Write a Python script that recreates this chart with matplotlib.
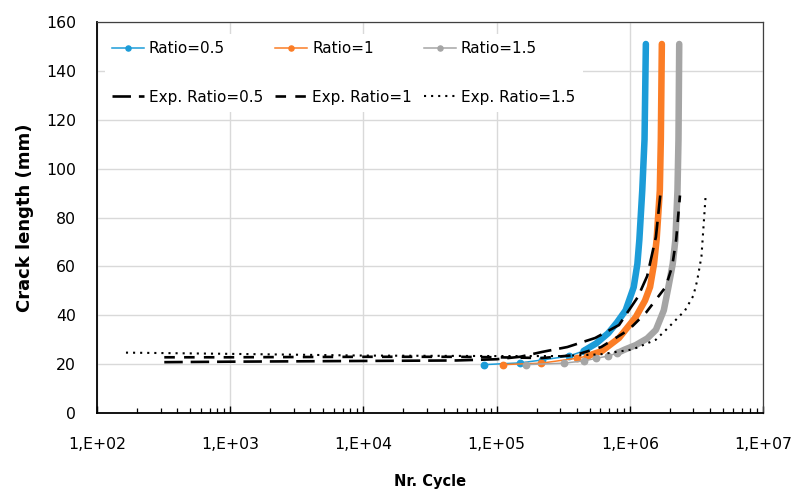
import matplotlib
matplotlib.use("Agg")
from matplotlib import pyplot as plt
from matplotlib.ticker import LogLocator, FixedLocator, NullFormatter

plt.rcParams['font.family'] = ['DejaVu Sans']

# model curves (cycles, crack length in mm)
n_r05 = [8.1e4, 1.5e5, 2.2e5, 3.5e5, 4.5e5, 5.6e5, 6.9e5, 8.0e5, 9.3e5, 1.07e6, 1.14e6, 1.18e6, 1.24e6, 1.29e6, 1.32e6]
a_r05 = [19.8, 20.5, 21.7, 23.3, 25.4, 28.5, 32.7, 37.0, 42.0, 51.5, 61.0, 71.0, 91.0, 112.0, 151.0]

n_r1 = [1.12e5, 2.17e5, 4.0e5, 4.8e5, 6.2e5, 8.3e5, 1.11e6, 1.30e6, 1.42e6, 1.52e6, 1.59e6, 1.68e6, 1.71e6, 1.74e6]
a_r1 = [19.8, 20.4, 22.4, 23.3, 25.4, 30.7, 39.3, 46.0, 51.6, 61.0, 71.0, 91.0, 112.0, 151.0]

n_r15 = [1.66e5, 3.2e5, 4.5e5, 5.6e5, 6.9e5, 8.0e5, 9.2e5, 1.11e6, 1.35e6, 1.57e6, 1.80e6, 1.95e6, 2.10e6, 2.20e6, 2.28e6, 2.32e6, 2.35e6]
a_r15 = [19.8, 20.4, 21.3, 22.4, 23.3, 24.5, 26.0, 27.8, 30.5, 34.0, 42.0, 51.6, 61.0, 71.0, 91.0, 112.0, 151.0]

# experimental curves
n_e05 = [3.2e2, 1e3, 1e4, 5e4, 1e5, 1.5e5, 2.2e5, 3.4e5, 5.5e5, 8.3e5, 1.15e6, 1.35e6, 1.57e6, 1.70e6]
a_e05 = [20.8, 21.0, 21.3, 21.5, 22.0, 23.0, 25.0, 27.0, 30.7, 36.0, 47.5, 56.0, 72.0, 90.0]

n_e1 = [3.2e2, 1e3, 1e4, 5e4, 1e5, 2.2e5, 3.9e5, 6.1e5, 9.8e5, 1.32e6, 1.86e6, 2.08e6, 2.23e6, 2.38e6]
a_e1 = [22.8, 22.8, 23.0, 23.0, 22.8, 22.5, 23.7, 27.0, 34.0, 41.0, 51.6, 60.0, 71.0, 89.0]

n_e15 = [1.65e2, 1e3, 1e4, 1e5, 3e5, 6e5, 1.05e6, 1.57e6, 1.95e6, 2.6e6, 3.0e6, 3.2e6, 3.45e6, 3.7e6]
a_e15 = [24.7, 24.2, 23.5, 23.3, 23.3, 24.0, 26.0, 30.0, 35.0, 42.0, 48.0, 54.0, 64.0, 88.0]

# index where model points get dense (drawn as a thick band)
thick_from = {'0.5': 4, '1': 3, '1.5': 5}

c_blue = '#1C9CD8'
c_orange = '#FB7D26'
c_gray = '#A5A5A5'

fig = plt.figure(figsize=(7.95, 4.93), dpi=100)
ax = fig.add_axes([97/795, 1 - 413/493, (763 - 97)/795, (413 - 22)/493])

h = {}
for key, n, a, col in [('0.5', n_r05, a_r05, c_blue),
                       ('1', n_r1, a_r1, c_orange),
                       ('1.5', n_r15, a_r15, c_gray)]:
    k = thick_from[key]
    h[key], = ax.plot(n, a, color=col, lw=1.1, marker='o', ms=4.6,
                      markevery=list(range(k + 1)),
                      label='Ratio=' + key, zorder=3)
    ax.plot(n[k:], a[k:], color=col, lw=4.7, solid_capstyle='round',
            solid_joinstyle='round', zorder=3)

e05, = ax.plot(n_e05, a_e05, color='black', lw=1.9, ls=(0, (7, 3)),
               label='Exp. Ratio=0.5', zorder=4)
e1, = ax.plot(n_e1, a_e1, color='black', lw=1.9, ls=(0, (4, 3.5)),
              label='Exp. Ratio=1', zorder=4)
e15, = ax.plot(n_e15, a_e15, color='black', lw=1.5, ls=(0, (1, 2.4)),
               label='Exp. Ratio=1.5', zorder=4)

ax.set_xscale('log')
ax.set_xlim(1e2, 1e7)
ax.set_ylim(0, 160)
ax.set_yticks(range(0, 161, 20))
ax.xaxis.set_major_locator(FixedLocator([1e2, 1e3, 1e4, 1e5, 1e6, 1e7]))
ax.xaxis.set_minor_locator(LogLocator(base=10, subs=range(2, 10), numticks=20))
ax.xaxis.set_minor_formatter(NullFormatter())
ax.set_xticklabels(['1,E+02', '1,E+03', '1,E+04', '1,E+05', '1,E+06', '1,E+07'])

ax.grid(which='major', color='#d9d9d9', lw=1.0, zorder=0)
ax.set_axisbelow(True)
ax.tick_params(axis='x', which='major', direction='in', length=5, width=1,
               pad=17, labelsize=11.3, colors='black')
ax.tick_params(axis='x', which='minor', direction='in', length=3.5, width=0.9)
ax.tick_params(axis='y', length=0, pad=15, labelsize=11.3)

for s in ['left', 'bottom']:
    ax.spines[s].set_color('black')
    ax.spines[s].set_linewidth(1.3)
for s in ['top', 'right']:
    ax.spines[s].set_color('#404040')
    ax.spines[s].set_linewidth(0.9)

ax.set_xlabel('Nr. Cycle', fontsize=10.5, fontweight='bold', labelpad=16)
ax.set_ylabel('Crack length (mm)', fontsize=13, fontweight='bold', labelpad=9)

leg = ax.legend(handles=[h['0.5'], e05, h['1'], e1, h['1.5'], e15],
                ncol=3, loc='upper left', bbox_to_anchor=(0.0, 0.99),
                fontsize=11, frameon=True, facecolor='white', edgecolor='none',
                framealpha=1, fancybox=False, labelspacing=2.2,
                handlelength=2.1, handletextpad=0.3, columnspacing=0.8,
                markerscale=0.8, borderpad=0.5)
leg.set_zorder(5)

fig.savefig('out.png', dpi=100)
